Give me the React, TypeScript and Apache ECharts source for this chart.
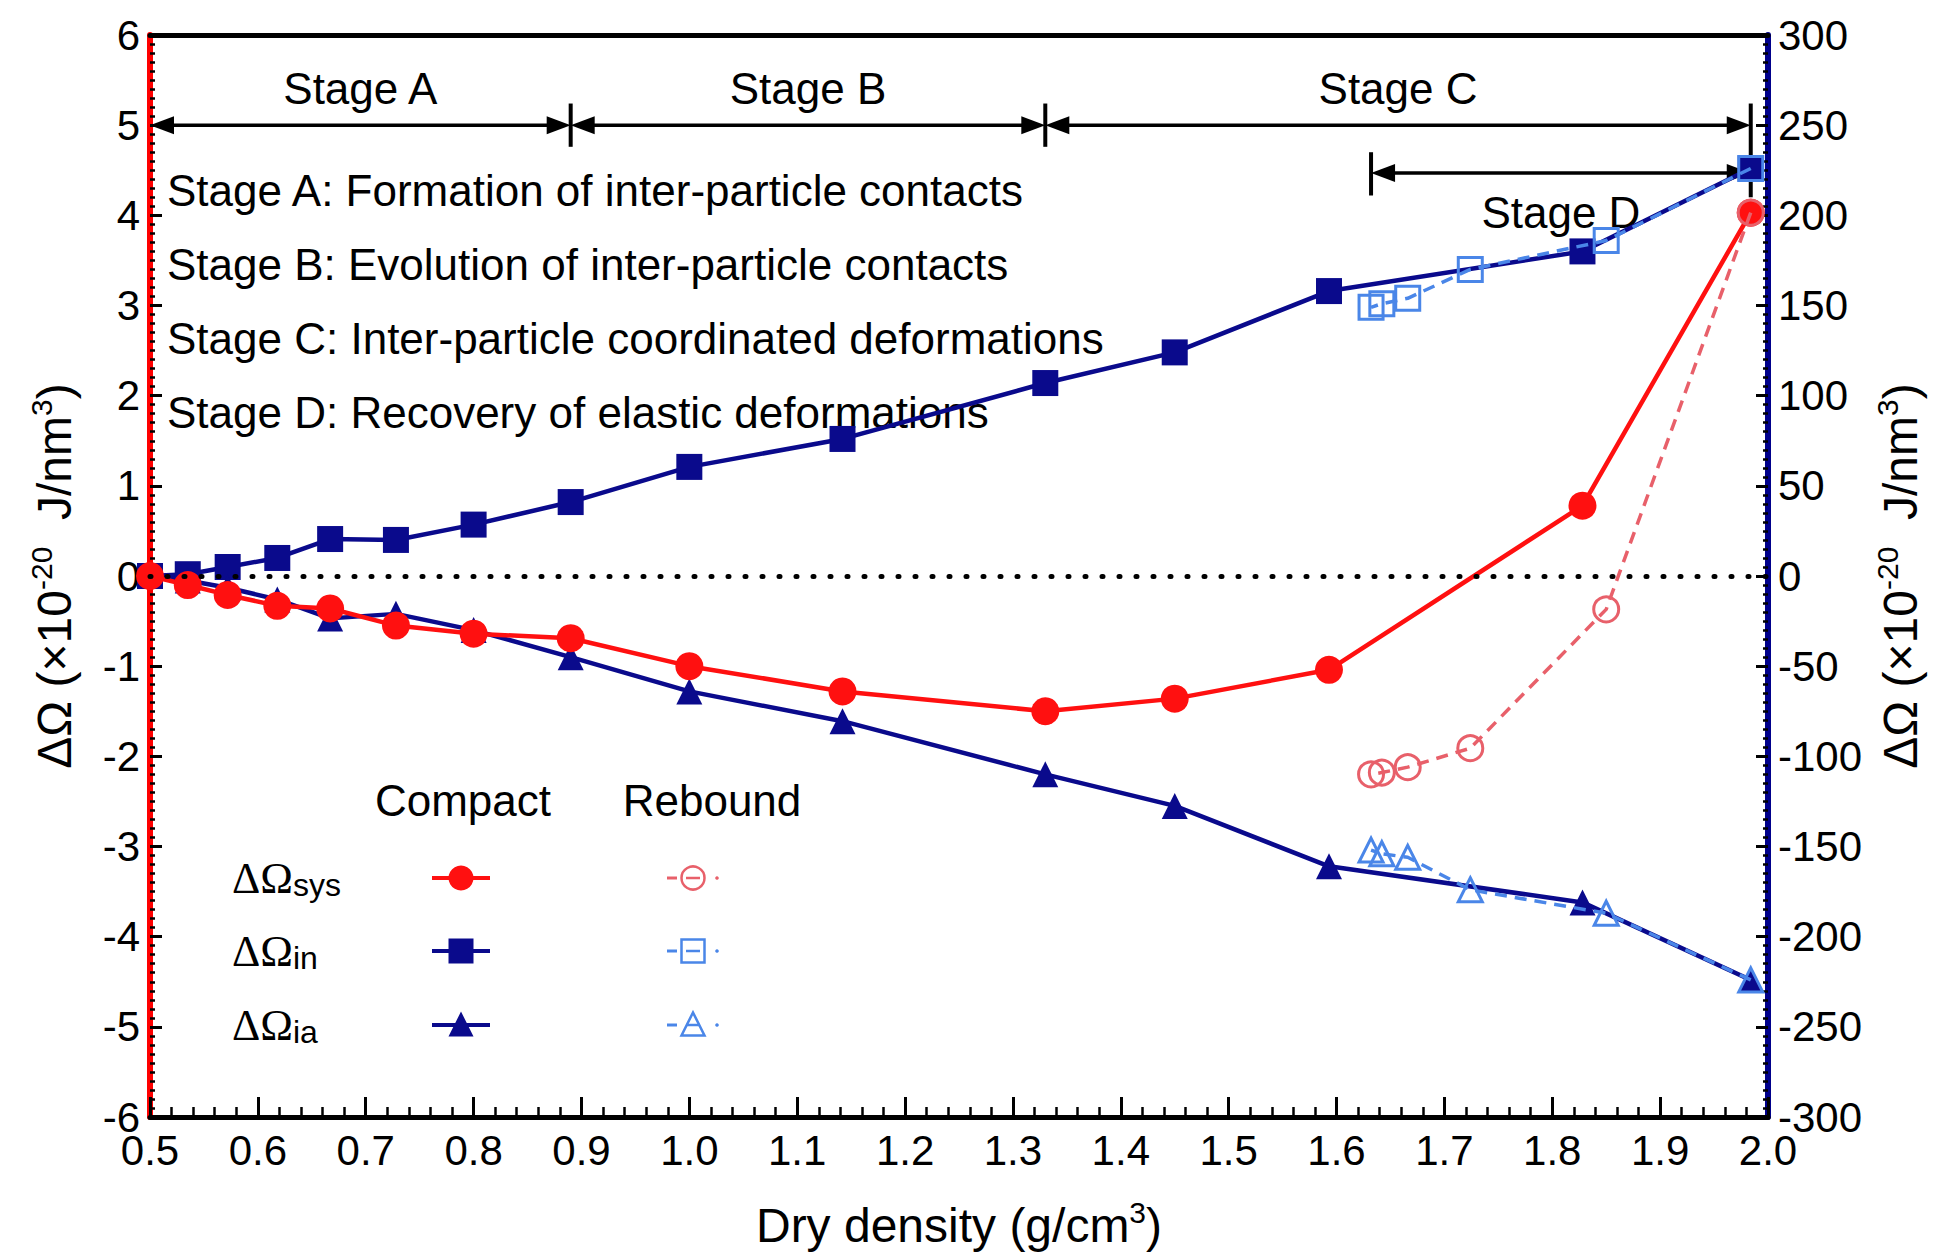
import React, { useEffect, useRef } from "react";
import * as echarts from "echarts";

// Dry density (g/cm3) of the compaction states
const density = [0.5, 0.535, 0.572, 0.618, 0.667, 0.728, 0.8, 0.89, 1.0, 1.142, 1.33, 1.45, 1.593, 1.828, 1.984];
// ΔΩ_sys (×10^-20 J/nm3, left axis)
const sysCompact = [0, -0.1, -0.21, -0.33, -0.36, -0.55, -0.64, -0.69, -1.0, -1.28, -1.5, -1.36, -1.04, 0.78, 4.03];
// ΔΩ_in and ΔΩ_ia (×10^-20 J/nm3, right axis)
const inCompact = [0, 1, 5, 10, 20.5, 20, 28.5, 41, 60.5, 76, 107, 124, 158, 180, 226];
const iaCompact = [0, -2.5, -6.5, -13, -23.5, -21, -30, -45, -64, -80.5, -110, -127.5, -161, -181, -224];

// Rebound path (unloading from the densest state)
const reboundDensity = [1.984, 1.85, 1.724, 1.666, 1.642, 1.632];
const sysRebound = [4.03, -0.37, -1.91, -2.12, -2.18, -2.2];
const inRebound = [226, 186, 170, 154, 151, 149];
const iaRebound = [-224, -187, -174, -156, -154, -152];

// Stage spans along the density axis
const stageNames = ["Stage A", "Stage B", "Stage C", "Stage D"];
const stageStart = [0.5, 0.89, 1.33, 1.632];
const stageEnd = [0.89, 1.33, 1.984, 1.984];
const stageLevel = [5, 5, 5, 4.47];
// Vertical separators: [density, lower, upper]
const separatorX = [0.89, 1.33, 1.984, 1.632];
const separatorLow = [4.76, 4.76, 4.2, 4.22];
const separatorHigh = [5.24, 5.24, 5.24, 4.7];

const stageNotes = [
  "Stage A: Formation of inter-particle contacts",
  "Stage B: Evolution of inter-particle contacts",
  "Stage C: Inter-particle coordinated deformations",
  "Stage D: Recovery of elastic deformations",
];

const xTicks = { min: 0.5, max: 2.0, interval: 0.1 };
const leftTicks = { min: -6, max: 6, interval: 1 };
const rightTicks = { min: -300, max: 300, interval: 50 };

const FONT = "'Liberation Sans', Arial, Helvetica, sans-serif";
const SERIF = "'Liberation Serif', 'Times New Roman', serif";
const RED = "#ff1010";
const NAVY = "#0a0a8c";
const LRED = "#e8606a";
const LBLUE = "#4a86e8";

const pairs = (xs: number[], ys: number[]) => xs.map((x, i) => [x, ys[i]]);

const hollow = (color: string) => ({ color: "rgba(255,255,255,0)", borderColor: color, borderWidth: 3 });

function buildOption() {
  const nameRich = {
    a: { fontSize: 48, lineHeight: 56, fontFamily: FONT, color: "#000" },
    b: { fontSize: 30, lineHeight: 30, verticalAlign: "top", fontFamily: FONT, color: "#000" },
  };
  const yName = "{a|ΔΩ (×10}{b|-20}{a|  J/nm}{b|3}{a|)}";

  const commonTickLabel = { color: "#000", fontSize: 42, fontFamily: FONT };

  const legendRows = [
    { sub: "sys", y: 878, color: RED, rcolor: LRED, shape: "circle" },
    { sub: "in", y: 951, color: NAVY, rcolor: LBLUE, shape: "rect" },
    { sub: "ia", y: 1025, color: NAVY, rcolor: LBLUE, shape: "triangle" },
  ];
  const marker = (shape: string, cx: number, cy: number, style: any, s: number) => {
    if (shape === "circle") return { type: "circle", shape: { cx, cy, r: s / 2 }, style };
    if (shape === "rect") return { type: "rect", shape: { x: cx - s / 2, y: cy - s / 2, width: s, height: s }, style };
    return {
      type: "polygon",
      shape: { points: [[cx, cy - s / 2 - 1], [cx + s / 2, cy + s / 2 - 1], [cx - s / 2, cy + s / 2 - 1]] },
      style,
    };
  };

  const legendElems: any[] = [
    { type: "text", x: 463, y: 800, style: { text: "Compact", fontSize: 44, fontFamily: FONT, fill: "#000", align: "center", verticalAlign: "middle" } },
    { type: "text", x: 712, y: 800, style: { text: "Rebound", fontSize: 44, fontFamily: FONT, fill: "#000", align: "center", verticalAlign: "middle" } },
  ];
  legendRows.forEach((r) => {
    legendElems.push({
      type: "text",
      x: 232,
      y: r.y,
      style: {
        text: `{a|ΔΩ}{s|${r.sub}}`,
        align: "left",
        verticalAlign: "middle",
        rich: {
          a: { fontSize: 44, lineHeight: 46, fontFamily: SERIF, fill: "#000", color: "#000" },
          s: { fontSize: 32, lineHeight: 22, verticalAlign: "bottom", fontFamily: FONT, fill: "#000", color: "#000" },
        },
      },
    });
    legendElems.push({ type: "line", shape: { x1: 432, y1: r.y, x2: 490, y2: r.y }, style: { stroke: r.color, lineWidth: 4 } });
    legendElems.push(marker(r.shape, 461, r.y, { fill: r.color }, 25));
    legendElems.push({ type: "line", shape: { x1: 667, y1: r.y, x2: 677, y2: r.y }, style: { stroke: r.rcolor, lineWidth: 3 } });
    legendElems.push({ type: "circle", shape: { cx: 717, cy: r.y, r: 1.8 }, style: { fill: r.rcolor } });
    legendElems.push(marker(r.shape, 693, r.y, { fill: "rgba(255,255,255,0)", stroke: r.rcolor, lineWidth: 2.5 }, 23));
    legendElems.push({ type: "line", shape: { x1: 686, y1: r.y, x2: 700, y2: r.y }, style: { stroke: r.rcolor, lineWidth: 2.5 } });
  });

  const noteElems = stageNotes.map((t, i) => ({
    type: "text",
    x: 167,
    y: 190 + i * 74,
    style: { text: t, fontSize: 44, fontFamily: FONT, fill: "#000", align: "left", verticalAlign: "middle" },
  }));

  const stageData = stageNames.map((_, i) => [stageStart[i], stageEnd[i], stageLevel[i]]);
  const separatorData = separatorX.map((x, i) => [x, separatorLow[i], separatorHigh[i]]);

  return {
    animation: false,
    backgroundColor: "#ffffff",
    textStyle: { fontFamily: FONT },
    grid: { left: 150, right: 168, top: 35, bottom: 138, containLabel: false },
    graphic: { elements: [...noteElems, ...legendElems] },
    xAxis: [
      {
        type: "value",
        position: "bottom",
        ...xTicks,
        name: "{a|Dry density (g/cm}{b|3}{a|)}",
        nameLocation: "middle",
        nameGap: 80,
        nameTextStyle: { rich: nameRich },
        axisLine: { onZero: false, lineStyle: { color: "#000", width: 5 } },
        axisTick: { inside: true, length: 20, lineStyle: { color: "#000", width: 3 } },
        minorTick: { show: true, splitNumber: 5, length: 10, lineStyle: { color: "#000", width: 2.5 } },
        splitLine: { show: false },
        axisLabel: { ...commonTickLabel, margin: 12, formatter: (v: number) => v.toFixed(1), showMinLabel: true, showMaxLabel: true },
      },
      {
        type: "value",
        position: "top",
        ...xTicks,
        axisLine: { onZero: false, lineStyle: { color: "#000", width: 5 } },
        axisTick: { show: false },
        axisLabel: { show: false },
        splitLine: { show: false },
      },
    ],
    yAxis: [
      {
        type: "value",
        position: "left",
        ...leftTicks,
        name: yName,
        nameLocation: "middle",
        nameRotate: 90,
        nameGap: 68,
        nameTextStyle: { rich: nameRich },
        axisLine: { onZero: false, lineStyle: { color: "#ff0000", width: 6 } },
        axisTick: { inside: true, length: 12, lineStyle: { color: "#000", width: 3 } },
        minorTick: { show: true, splitNumber: 10, length: 5, lineStyle: { color: "#000", width: 2.5 } },
        splitLine: { show: false },
        axisLabel: { ...commonTickLabel, margin: 10 },
      },
      {
        type: "value",
        position: "right",
        ...rightTicks,
        name: yName,
        nameLocation: "middle",
        nameRotate: 90,
        nameGap: 104,
        nameTextStyle: { rich: nameRich },
        axisLine: { onZero: false, lineStyle: { color: "#00008b", width: 6 } },
        axisTick: { inside: true, length: 12, lineStyle: { color: "#000", width: 3 } },
        minorTick: { show: true, splitNumber: 10, length: 5, lineStyle: { color: "#000", width: 2.5 } },
        splitLine: { show: false },
        axisLabel: { ...commonTickLabel, margin: 10 },
      },
    ],
    series: [
      {
        name: "ΔΩin compact",
        type: "line",
        yAxisIndex: 1,
        data: pairs(density, inCompact),
        symbol: "rect",
        symbolSize: 26,
        lineStyle: { color: NAVY, width: 4.5 },
        itemStyle: { color: NAVY },
        z: 3,
      },
      {
        name: "ΔΩia compact",
        type: "line",
        yAxisIndex: 1,
        data: pairs(density, iaCompact),
        symbol: "triangle",
        symbolSize: 26,
        lineStyle: { color: NAVY, width: 4.5 },
        itemStyle: { color: NAVY },
        z: 3,
      },
      {
        name: "ΔΩsys compact",
        type: "line",
        yAxisIndex: 0,
        data: pairs(density, sysCompact),
        symbol: "circle",
        symbolSize: 28,
        lineStyle: { color: RED, width: 4.5 },
        itemStyle: { color: RED },
        z: 4,
        markLine: {
          silent: true,
          symbol: "none",
          label: { show: false },
          lineStyle: { color: "#000", width: 5, type: [1, 16], cap: "round" },
          data: [{ yAxis: 0 }],
        },
      },
      {
        name: "ΔΩsys rebound",
        type: "line",
        yAxisIndex: 0,
        data: pairs(reboundDensity, sysRebound),
        symbol: "circle",
        symbolSize: 25,
        showSymbol: true,
        lineStyle: { color: LRED, width: 3.5, type: [12, 8] },
        itemStyle: hollow(LRED),
        z: 5,
      },
      {
        name: "ΔΩin rebound",
        type: "line",
        yAxisIndex: 1,
        data: pairs(reboundDensity, inRebound),
        symbol: "rect",
        symbolSize: 24,
        lineStyle: { color: LBLUE, width: 3.5, type: [12, 8] },
        itemStyle: hollow(LBLUE),
        z: 5,
      },
      {
        name: "ΔΩia rebound",
        type: "line",
        yAxisIndex: 1,
        data: pairs(reboundDensity, iaRebound),
        symbol: "triangle",
        symbolSize: 24,
        lineStyle: { color: LBLUE, width: 3.5, type: [12, 8] },
        itemStyle: hollow(LBLUE),
        z: 5,
      },
      {
        name: "stages",
        type: "custom",
        yAxisIndex: 0,
        clip: false,
        silent: true,
        z: 1,
        encode: { x: [0, 1], y: 2 },
        data: stageData,
        renderItem: (params: any, api: any) => {
          const p1 = api.coord([api.value(0), api.value(2)]);
          const p2 = api.coord([api.value(1), api.value(2)]);
          const L = 24;
          const H = 9;
          const i = params.dataIndex;
          const below = stageLevel[i] < 5;
          const midX = (p1[0] + p2[0]) / 2;
          return {
            type: "group",
            children: [
              { type: "line", shape: { x1: p1[0] + L - 2, y1: p1[1], x2: p2[0] - L + 2, y2: p2[1] }, style: { stroke: "#000", lineWidth: 3.5 } },
              { type: "polygon", shape: { points: [[p1[0], p1[1]], [p1[0] + L, p1[1] - H], [p1[0] + L, p1[1] + H]] }, style: { fill: "#000" } },
              { type: "polygon", shape: { points: [[p2[0], p2[1]], [p2[0] - L, p2[1] - H], [p2[0] - L, p2[1] + H]] }, style: { fill: "#000" } },
              {
                type: "text",
                x: midX,
                y: p1[1] + (below ? 40 : -37),
                style: { text: stageNames[i], fontSize: 44, fontFamily: FONT, fill: "#000", align: "center", verticalAlign: "middle" },
              },
            ],
          };
        },
      },
      {
        name: "separators",
        type: "custom",
        yAxisIndex: 0,
        clip: false,
        silent: true,
        z: 1,
        encode: { x: 0, y: [1, 2] },
        data: separatorData,
        renderItem: (params: any, api: any) => {
          const a = api.coord([api.value(0), api.value(1)]);
          const b = api.coord([api.value(0), api.value(2)]);
          return { type: "line", shape: { x1: a[0], y1: a[1], x2: b[0], y2: b[1] }, style: { stroke: "#000", lineWidth: 4 } };
        },
      },
    ],
  };
}

export default function App() {
  const ref = useRef<HTMLDivElement>(null);
  useEffect(() => {
    if (!ref.current) return;
    const chart = echarts.init(ref.current, null, { renderer: "svg" });
    chart.setOption(buildOption() as any);
    return () => chart.dispose();
  }, []);
  return (
    <div
      ref={ref}
      style={{ position: "absolute", left: 0, top: 0, width: 1936, height: 1255, background: "#fff" }}
    />
  );
}
